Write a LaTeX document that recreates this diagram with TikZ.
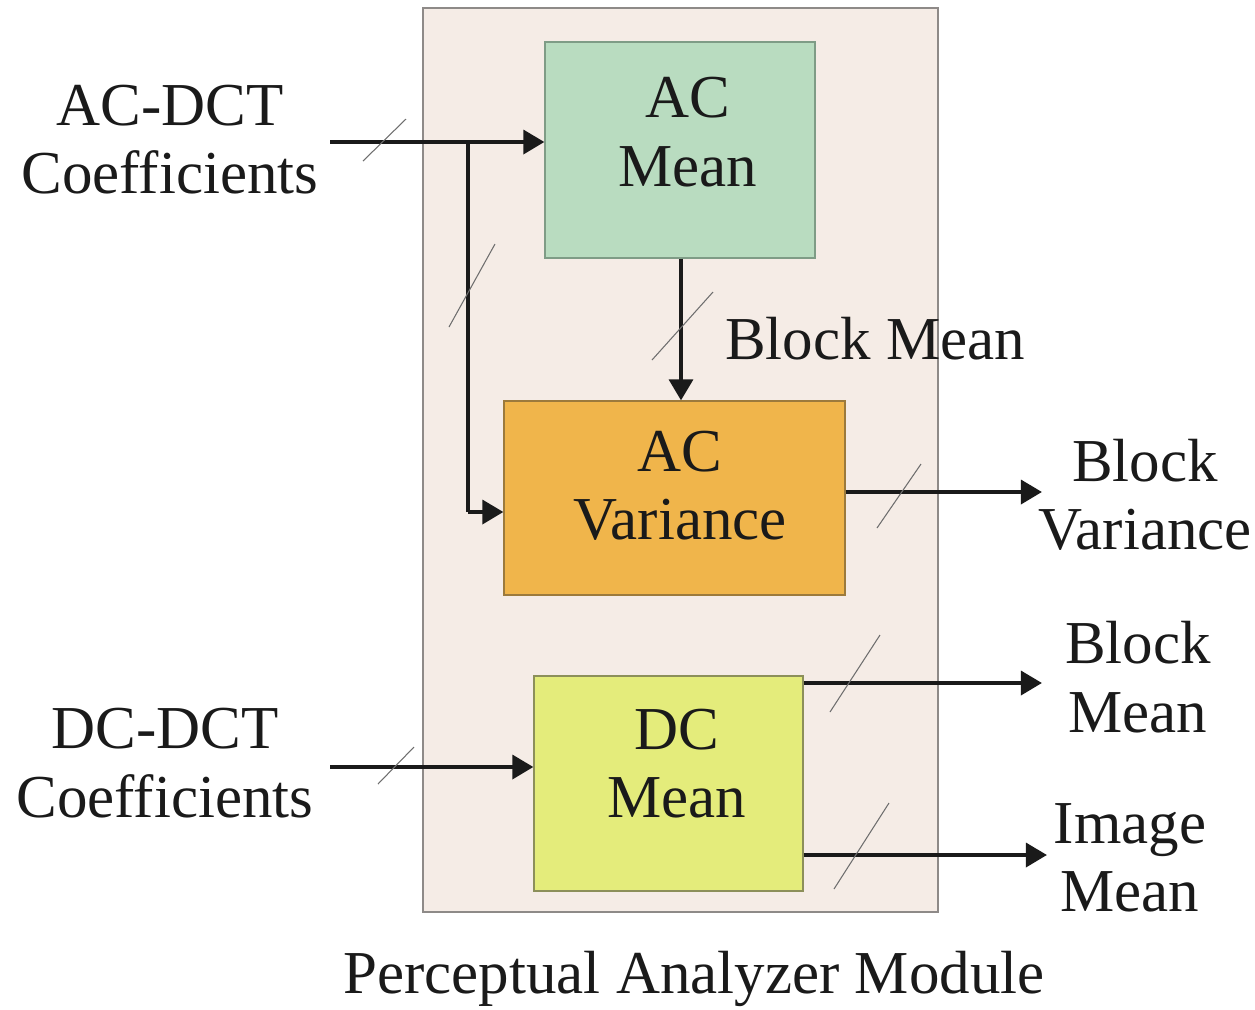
\documentclass[tikz,border=0pt]{standalone}
\usepackage{fontspec}
\setmainfont{Liberation Serif}
\usetikzlibrary{arrows.meta}
\definecolor{modfill}{HTML}{F5ECE6}
\definecolor{modline}{HTML}{8E8A88}
\definecolor{acmfill}{HTML}{B9DCC0}
\definecolor{acmline}{HTML}{7F9C86}
\definecolor{acvfill}{HTML}{F0B54B}
\definecolor{acvline}{HTML}{9C7A3C}
\definecolor{dcmfill}{HTML}{E4EC7B}
\definecolor{dcmline}{HTML}{8C8F5A}
\definecolor{ink}{HTML}{1A1A1A}
\definecolor{tick}{HTML}{6E6E6E}
\begin{document}
\begin{tikzpicture}[x=0.02cm,y=-0.02cm,
  lbl/.style={font=\fontsize{34.7}{39}\selectfont, align=center, inner sep=0pt, text=ink},
  blk/.style={line width=0.7pt, inner sep=0pt},
  arr/.style={draw=ink, line width=2.5pt, -{Triangle[length=12pt,width=13.5pt]}},
  wire/.style={draw=ink, line width=2.5pt},
  bus/.style={draw=tick, line width=0.6pt}]
\useasboundingbox (0,0) rectangle (1255,1009);

% module frame and processing blocks
\node[blk, draw=modline, fill=modfill, minimum width=10.3cm, minimum height=18.08cm] (mod) at (680.5,460) {};
\node[blk, draw=acmline, fill=acmfill, minimum width=5.4cm, minimum height=4.32cm] (acm) at (680,150) {};
\node[blk, draw=acvline, fill=acvfill, minimum width=6.82cm, minimum height=3.88cm] (acv) at (674.5,498) {};
\node[blk, draw=dcmline, fill=dcmfill, minimum width=5.38cm, minimum height=4.3cm] (dcm) at (668.5,783.5) {};

% block captions
\node[lbl] (acmtxt) at (688,132) {AC\\Mean};
\node[lbl] (acvtxt) at (680,486) {AC\\Variance};
\node[lbl] (dcmtxt) at (677,763.5) {DC\\Mean};

% inputs and outputs
\node[lbl] (acin) at (170,139.5) {AC-DCT\\Coefficients};
\node[lbl] (dcin) at (165,763) {DC-DCT\\Coefficients};
\node[lbl] (bmean) at (875,339) {Block Mean};
\node[lbl] (bvar) at (1145,495) {Block\\Variance};
\node[lbl] (bmeanout) at (1138,677) {Block\\Mean};
\node[lbl] (imean) at (1130,858) {Image\\Mean};
\node[lbl, anchor=base] (title) at (694,993) {Perceptual Analyzer Module};

% connector end points
\coordinate (acsrc) at (330,142);
\coordinate (split) at (468,142);
\coordinate (bend) at (468,512);
\coordinate (dcsrc) at (330,767);
\coordinate (varend) at (1042,492);
\coordinate (bmend) at (1042,683);
\coordinate (imend) at (1047,855);

% connectors
\draw[arr] (acsrc) -- (acsrc -| acm.west);
\draw[wire] (split) -- (bend);
\draw[arr] (bend) -- (bend -| acv.west);
\draw[arr] (acm.south -| 681,0) -- (acv.north -| 681,0);
\draw[arr] (acv.east |- varend) -- (varend);
\draw[arr] (dcsrc) -- (dcsrc -| dcm.west);
\draw[arr] (dcm.east |- bmend) -- (bmend);
\draw[arr] (dcm.east |- imend) -- (imend);

% bus-width ticks
\draw[bus] (363,161) -- (406,119);
\draw[bus] (449,327) -- (495,244);
\draw[bus] (652,360) -- (713,292);
\draw[bus] (877,528) -- (921,464);
\draw[bus] (378,784) -- (414,747);
\draw[bus] (830,712) -- (880,635);
\draw[bus] (834,889) -- (889,803);
\end{tikzpicture}
\end{document}
